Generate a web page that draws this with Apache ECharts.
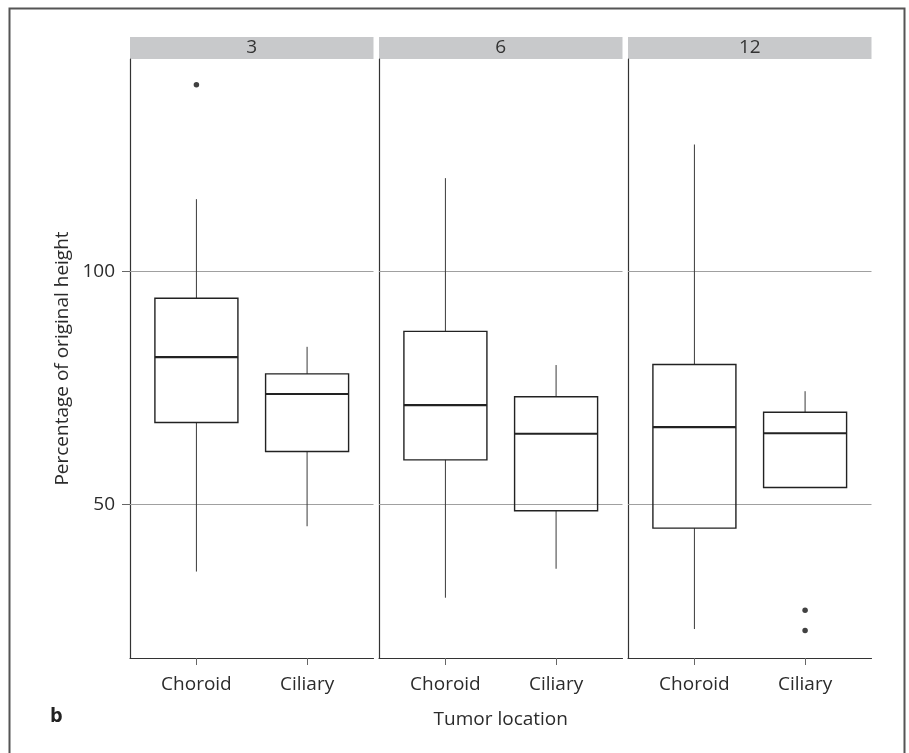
<!DOCTYPE html>
<html>
<head>
<meta charset="utf-8">
<script src="https://cdn.jsdelivr.net/npm/echarts@6/dist/echarts.min.js"></script>
<style>
  html, body { margin: 0; padding: 0; background: #fff; }
  #chart { width: 909px; height: 753px; }
</style>
</head>
<body>
<div id="chart"></div>
<script>
// Facets: months after treatment
const months = ['3', '6', '12'];
// Categories on each panel's x axis
const locations = ['Choroid', 'Ciliary'];
// Box statistics per month: [lower whisker, Q1, median, Q3, upper whisker]
const choroidStats = [
  [35.7, 67.6, 81.6, 94.2, 115.4],
  [30.1, 59.6, 71.3, 87.1, 119.9],
  [23.4, 45.0, 66.6, 80.0, 127.1]
];
const ciliaryStats = [
  [45.4, 61.4, 73.7, 78.0, 83.8],
  [36.3, 48.7, 65.2, 73.1, 79.9],
  [53.7, 53.7, 65.3, 69.8, 74.3]
];
// Outlying points per month: [category position, value]
const outliers = [
  [[1, 139.9]],
  [],
  [[2, 27.4], [2, 23.1]]
];
// Reference lines / tick labels on the y axis
const yTicks = [50, 100];
const yRange = [17.2, 145.4];

const FONT = 'Open Sans';
const panelLeft = [130, 379, 628];
const panelWidth = 243.5;
const panelTop = 59;
const panelHeight = 599;
const stripHeight = 22;

const chart = echarts.init(document.getElementById('chart'), null, { renderer: 'canvas' });

function renderBox(params, api) {
  const x = api.value(0);
  const pt = v => api.coord([x, v]);
  const hw = api.size([0.75, 0])[0] / 2;
  const lo = pt(api.value(1));
  const q1 = pt(api.value(2));
  const md = pt(api.value(3));
  const q3 = pt(api.value(4));
  const hi = pt(api.value(5));
  const cx = lo[0];
  const whisker = { stroke: '#3a3a3a', lineWidth: 1 };
  return {
    type: 'group',
    children: [
      { type: 'line', shape: { x1: cx, y1: hi[1], x2: cx, y2: q3[1] }, style: whisker },
      { type: 'line', shape: { x1: cx, y1: q1[1], x2: cx, y2: lo[1] }, style: whisker },
      { type: 'rect', shape: { x: cx - hw, y: q3[1], width: hw * 2, height: q1[1] - q3[1] },
        style: { fill: 'none', stroke: '#222', lineWidth: 1.4 } },
      { type: 'line', shape: { x1: cx - hw, y1: md[1], x2: cx + hw, y2: md[1] },
        style: { stroke: '#222', lineWidth: 2.2 } }
    ]
  };
}

const grids = [], xAxes = [], yAxes = [], series = [], graphics = [];

months.forEach((m, i) => {
  grids.push({ left: panelLeft[i], top: panelTop, width: panelWidth, height: panelHeight });

  xAxes.push({
    type: 'value', gridIndex: i, min: 0.4, max: 2.6,
    axisLine: { show: true, lineStyle: { color: '#333', width: 1.2 } },
    axisTick: { show: true, customValues: [1, 2], length: 7, lineStyle: { color: '#666' } },
    axisLabel: {
      customValues: [1, 2], formatter: v => locations[Math.round(v) - 1],
      margin: 17, fontFamily: FONT, fontSize: 19, color: '#2b2b2b'
    },
    splitLine: { show: false },
    name: i === 1 ? 'Tumor location' : '',
    nameLocation: 'middle', nameGap: 52,
    nameTextStyle: { fontFamily: FONT, fontSize: 19, color: '#2b2b2b' }
  });

  yAxes.push({
    type: 'value', gridIndex: i, min: yRange[0], max: yRange[1],
    axisLine: { show: true, lineStyle: { color: '#333', width: 1.2 } },
    axisTick: { show: i === 0, customValues: yTicks, length: 8, lineStyle: { color: '#666' } },
    axisLabel: {
      show: i === 0, customValues: yTicks, margin: 15,
      fontFamily: FONT, fontSize: 19, color: '#2b2b2b'
    },
    splitLine: { show: false },
    name: i === 0 ? 'Percentage of original height' : '',
    nameLocation: 'middle', nameGap: 58, nameRotate: 90,
    nameTextStyle: { fontFamily: FONT, fontSize: 19, color: '#2b2b2b' }
  });

  series.push({
    type: 'custom', xAxisIndex: i, yAxisIndex: i, silent: true, z: 3,
    renderItem: renderBox,
    encode: { x: 0, y: [1, 2, 3, 4, 5] },
    data: [[1].concat(choroidStats[i]), [2].concat(ciliaryStats[i])],
    markLine: {
      silent: true, symbol: 'none', label: { show: false }, z: 1,
      lineStyle: { color: '#a0a0a0', width: 1, type: 'solid' },
      data: yTicks.map(v => ({ yAxis: v }))
    }
  });

  series.push({
    type: 'scatter', xAxisIndex: i, yAxisIndex: i, silent: true, z: 4,
    symbolSize: 5.5, itemStyle: { color: '#111' },
    data: outliers[i]
  });

  // Facet strip
  graphics.push({
    type: 'rect', left: panelLeft[i], top: panelTop - stripHeight,
    shape: { width: panelWidth, height: stripHeight },
    style: { fill: '#c8c9cb' }, silent: true
  });
  graphics.push({
    type: 'text', x: panelLeft[i] + panelWidth / 2, y: panelTop - stripHeight / 2,
    style: {
      text: m, fontFamily: FONT, fontSize: 19, fill: '#333',
      align: 'center', verticalAlign: 'middle'
    }, silent: true
  });
});

// Outer frame and panel letter
graphics.push({
  type: 'rect', left: 7, top: 6,
  shape: { width: 895, height: 800 },
  style: { fill: 'none', stroke: '#555', lineWidth: 2 }, silent: true
});
graphics.push({
  type: 'text', x: 50, y: 716,
  style: {
    text: 'b', fontFamily: FONT, fontSize: 20, fontWeight: 'bold', fill: '#222',
    verticalAlign: 'middle'
  }, silent: true
});

chart.setOption({
  backgroundColor: '#fff',
  animation: false,
  grid: grids,
  xAxis: xAxes,
  yAxis: yAxes,
  series: series,
  graphic: graphics
});
</script>
</body>
</html>
